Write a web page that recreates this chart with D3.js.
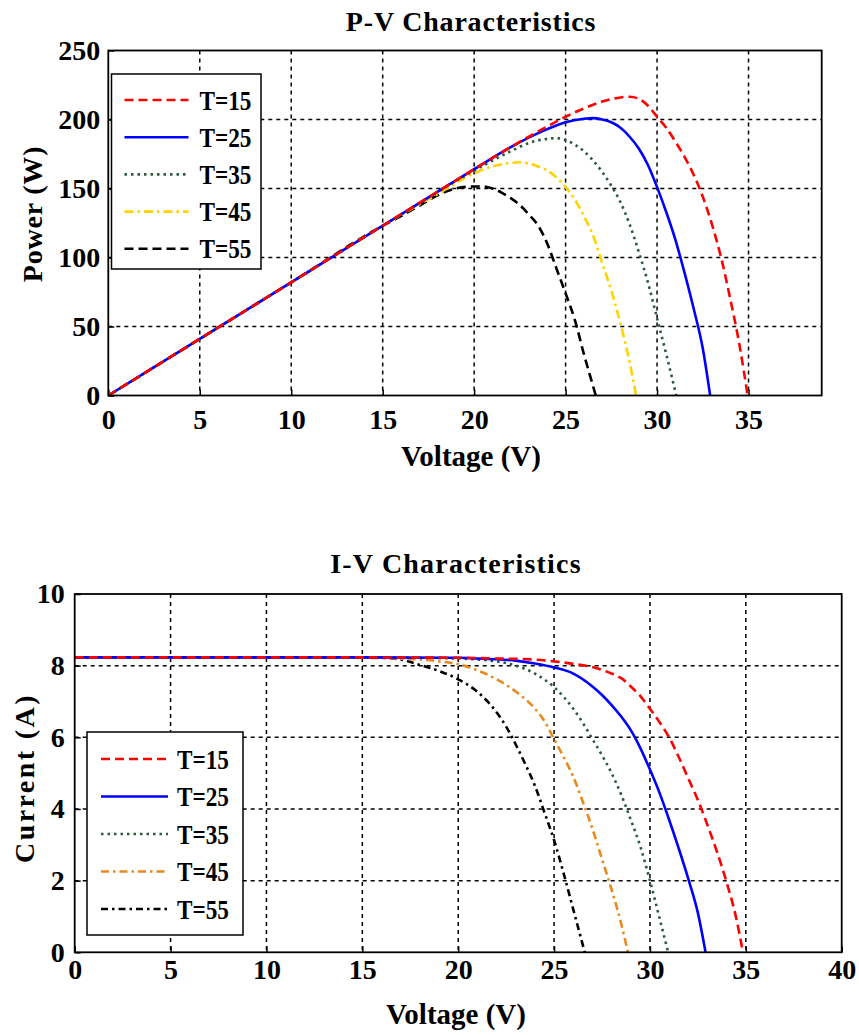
<!DOCTYPE html>
<html>
<head>
<meta charset="utf-8">
<script src="https://cdn.jsdelivr.net/npm/d3@7"></script>
<style>
  body { margin: 0; background: #fff; }
  text { font-family: "Liberation Serif", "Times New Roman", serif; font-weight: bold; fill: #000; }
</style>
</head>
<body>
<div id="chart"></div>
<script>
// ---- data ----
const seriesNames = ['T=15', 'T=25', 'T=35', 'T=45', 'T=55'];

// P-V curves (voltage in V, power in W)
const pvV15 = [0, 5, 10, 15, 20, 22, 24, 25, 26, 27, 28, 28.5, 29, 29.5, 30, 30.5, 31, 31.5, 32, 32.5, 33, 33.5, 34, 34.5, 34.95];
const pvP15 = [0, 41, 82, 123, 164, 180, 195, 202, 208, 213, 216, 216.5, 215, 210, 202, 194, 184, 173, 160, 144, 124, 100, 70, 37, 0];
const pvV25 = [0, 5, 10, 15, 20, 22, 24, 25, 26, 26.5, 27, 27.5, 28, 28.5, 29, 29.5, 30, 30.5, 31, 31.5, 32, 32.5, 32.9];
const pvP25 = [0, 41, 82, 123, 164, 180, 193, 198, 200.5, 201, 200, 198, 194, 187.5, 179, 167, 151, 133, 113, 89, 63, 34, 0];
const pvV35 = [0, 5, 10, 15, 20, 22, 23, 24, 24.5, 25, 26, 27, 27.5, 28, 28.5, 29, 29.5, 30, 30.5, 31.05];
const pvP35 = [0, 41, 82, 123, 163, 177, 183, 186, 186.5, 185, 177, 162, 152, 140, 124, 104, 82, 56, 30, 0];
const pvV45 = [0, 5, 10, 15, 18, 20, 21, 22, 22.5, 23, 23.5, 24, 24.5, 25, 25.5, 26, 26.5, 27, 27.5, 28, 28.5, 28.85];
const pvP45 = [0, 41, 82, 123, 146, 161, 166, 168.5, 169, 168, 166, 163, 158, 151, 142, 130, 116, 96, 76, 52, 24, 0];
const pvV55 = [0, 5, 10, 15, 16, 17, 18, 19, 20, 20.5, 21, 21.5, 22, 22.5, 23, 23.5, 24, 24.5, 25, 25.5, 26, 26.3, 26.65];
const pvP55 = [0, 41, 82, 123, 130, 137.5, 145, 150, 151.5, 151.5, 150, 147, 143, 138, 131, 123, 110, 92, 74, 55, 30, 16, 0];

// I-V curves (voltage in V, current in A)
const ivV15 = [0, 5, 10, 15, 20, 22, 24, 25, 26, 27, 28, 28.5, 29, 29.5, 30, 30.5, 31, 31.5, 32, 32.5, 33, 33.5, 34, 34.5, 34.85];
const ivI15 = [8.23, 8.23, 8.23, 8.23, 8.22, 8.2, 8.17, 8.12, 8.05, 7.96, 7.78, 7.65, 7.42, 7.15, 6.8, 6.42, 6.0, 5.45, 4.85, 4.25, 3.55, 2.8, 1.95, 0.95, 0];
const ivV25 = [0, 5, 10, 15, 20, 21, 22, 23, 24, 25, 26, 27, 27.5, 28, 28.5, 29, 29.5, 30, 30.5, 31, 31.5, 32, 32.5, 32.9];
const ivI25 = [8.23, 8.23, 8.23, 8.23, 8.22, 8.2, 8.18, 8.14, 8.06, 7.95, 7.78, 7.42, 7.18, 6.9, 6.58, 6.2, 5.7, 5.1, 4.45, 3.7, 2.9, 2.05, 1.1, 0];
const ivV35 = [0, 5, 10, 15, 20, 21, 22, 23, 24, 25, 25.5, 26, 26.5, 27, 27.5, 28, 28.5, 29, 29.5, 30, 30.5, 30.95];
const ivI35 = [8.23, 8.23, 8.23, 8.23, 8.2, 8.17, 8.12, 8.0, 7.78, 7.4, 7.13, 6.8, 6.4, 5.95, 5.5, 5.0, 4.4, 3.7, 2.95, 2.0, 0.95, 0];
const ivV45 = [0, 5, 10, 15, 18, 19, 20, 21, 22, 23, 24, 24.5, 25, 25.5, 26, 26.5, 27, 27.5, 28, 28.5, 28.85];
const ivI45 = [8.23, 8.23, 8.23, 8.22, 8.17, 8.12, 8.04, 7.87, 7.62, 7.28, 6.8, 6.45, 5.95, 5.45, 4.9, 4.2, 3.45, 2.6, 1.75, 0.8, 0];
const ivV55 = [0, 5, 10, 15, 16, 17, 18, 19, 20, 21, 22, 22.5, 23, 23.5, 24, 24.5, 25, 25.5, 26, 26.3, 26.6];
const ivI55 = [8.23, 8.23, 8.23, 8.23, 8.22, 8.17, 8.02, 7.85, 7.62, 7.27, 6.7, 6.3, 5.8, 5.25, 4.65, 3.9, 3.13, 2.2, 1.2, 0.6, 0];

// axis ticks
const pvXTicks = [0, 5, 10, 15, 20, 25, 30, 35];
const pvYTicks = [0, 50, 100, 150, 200, 250];
const ivXTicks = [0, 5, 10, 15, 20, 25, 30, 35, 40];
const ivYTicks = [0, 2, 4, 6, 8, 10];

// ---- styles ----
const pvStyles = [
    { color: '#ff0000', dash: '9,5' },
    { color: '#0000ff', dash: null },
    { color: '#2b5a3c', dash: '2.5,4' },
    { color: '#ffd200', dash: '9,4,2.5,4' },
    { color: '#000000', dash: '9,5' }
];
const ivStyles = [
    { color: '#ff0000', dash: '9,5' },
    { color: '#0000ff', dash: null },
    { color: '#2b5a3c', dash: '2.5,4' },
    { color: '#e8891e', dash: '8,4,2.5,4' },
    { color: '#000000', dash: '7,4,2.5,4' }
];

const zip = (xs, ys) => xs.map((v, i) => [v, ys[i]]);

const svg = d3.select('#chart').append('svg')
    .attr('width', 859)
    .attr('height', 1035);

svg.append('rect').attr('width', 859).attr('height', 1035).attr('fill', '#fff');

function drawPanel(p) {
    const x = d3.scaleLinear().domain(p.xDomain).range([p.left, p.right]);
    const y = d3.scaleLinear().domain(p.yDomain).range([p.bottom, p.top]);
    const g = svg.append('g');

    // dashed grid
    const xInner = p.xTicks.filter(t => t > p.xDomain[0] && t < p.xDomain[1]);
    const yInner = p.yTicks.filter(t => t > p.yDomain[0] && t < p.yDomain[1]);
    g.selectAll('.vgrid').data(xInner).enter().append('line')
        .attr('x1', d => x(d)).attr('x2', d => x(d))
        .attr('y1', p.top).attr('y2', p.bottom)
        .attr('stroke', '#000').attr('stroke-width', 1.5).attr('stroke-dasharray', '4,4');
    g.selectAll('.hgrid').data(yInner).enter().append('line')
        .attr('x1', p.left).attr('x2', p.right)
        .attr('y1', d => y(d)).attr('y2', d => y(d))
        .attr('stroke', '#000').attr('stroke-width', 1.5).attr('stroke-dasharray', '4,4');

    // axes (inward ticks like matlab)
    const xAxis = g.append('g')
        .attr('transform', `translate(0,${p.bottom})`)
        .call(d3.axisBottom(x).tickValues(p.xTicks).tickSize(-6).tickPadding(p.xPad).tickFormat(d3.format('d')));
    const yAxis = g.append('g')
        .attr('transform', `translate(${p.left},0)`)
        .call(d3.axisLeft(y).tickValues(p.yTicks).tickSize(-6).tickPadding(p.yPad).tickFormat(d3.format('d')));
    [xAxis, yAxis].forEach(a => {
        a.attr('font-family', null).attr('font-size', null);
        a.select('.domain').remove();
        a.selectAll('line').attr('stroke', '#000').attr('stroke-width', 1.5);
        a.selectAll('text').style('font-size', p.tickFont + 'px');
    });
    xAxis.selectAll('text').attr('dy', '0.71em');

    // curves, drawn last series first so T=15 ends up on top
    const line = d3.line().x(d => x(d[0])).y(d => y(d[1])).curve(d3.curveMonotoneX);
    for (let i = p.series.length - 1; i >= 0; i--) {
        g.append('path')
            .datum(p.series[i])
            .attr('d', line)
            .attr('fill', 'none')
            .attr('stroke', p.styles[i].color)
            .attr('stroke-width', 2.6)
            .attr('stroke-dasharray', p.styles[i].dash);
    }

    // plot box
    g.append('rect')
        .attr('x', p.left).attr('y', p.top)
        .attr('width', p.right - p.left).attr('height', p.bottom - p.top)
        .attr('fill', 'none').attr('stroke', '#000').attr('stroke-width', 1.8);

    // title and axis labels
    g.append('text')
        .attr('x', p.titleX).attr('y', p.titleY)
        .attr('text-anchor', 'middle')
        .style('font-size', '28px').style('letter-spacing', p.titleSpacing + 'px')
        .text(p.title);
    g.append('text')
        .attr('x', p.xLabelX).attr('y', p.xLabelY)
        .attr('text-anchor', 'middle')
        .style('font-size', '29px')
        .text('Voltage (V)');
    g.append('text')
        .attr('transform', `translate(${p.yLabelX},${p.yLabelY}) rotate(-90)`)
        .attr('text-anchor', 'middle')
        .style('font-size', '28px').style('letter-spacing', p.yLabelSpacing + 'px')
        .text(p.yLabel);

    // legend
    const L = p.legend;
    g.append('rect')
        .attr('x', L.x).attr('y', L.y).attr('width', L.w).attr('height', L.h)
        .attr('fill', '#fff').attr('stroke', '#000').attr('stroke-width', 1.5);
    seriesNames.forEach((name, i) => {
        const ly = L.firstRow + i * L.step;
        g.append('line')
            .attr('x1', L.x + L.lineFrom).attr('x2', L.x + L.lineTo)
            .attr('y1', ly).attr('y2', ly)
            .attr('stroke', p.styles[i].color)
            .attr('stroke-width', 2.6)
            .attr('stroke-dasharray', p.styles[i].dash);
        g.append('text')
            .attr('x', L.x + L.textAt).attr('y', ly + 9.5)
            .attr('textLength', 52).attr('lengthAdjust', 'spacingAndGlyphs')
            .style('font-size', '27px')
            .text(name);
    });
}

drawPanel({
    left: 108.3, right: 821.7, top: 50.5, bottom: 395.5,
    xDomain: [0, 39], yDomain: [0, 250],
    xTicks: pvXTicks, yTicks: pvYTicks, tickFont: 28, xPad: 14, yPad: 8,
    title: 'P-V Characteristics', titleX: 471, titleY: 31, titleSpacing: 0.8,
    xLabelX: 471, xLabelY: 466,
    yLabel: 'Power (W)', yLabelX: 42, yLabelY: 214, yLabelSpacing: 0.8,
    styles: pvStyles,
    series: [zip(pvV15, pvP15), zip(pvV25, pvP25), zip(pvV35, pvP35), zip(pvV45, pvP45), zip(pvV55, pvP55)],
    legend: { x: 111.5, y: 74, w: 149.5, h: 195, firstRow: 100, step: 37.2, lineFrom: 13, lineTo: 77, textAt: 88 }
});

drawPanel({
    left: 74.7, right: 841.7, top: 594, bottom: 952.3,
    xDomain: [0, 40], yDomain: [0, 10],
    xTicks: ivXTicks, yTicks: ivYTicks, tickFont: 28, xPad: 7, yPad: 10,
    title: 'I-V Characteristics', titleX: 456, titleY: 573, titleSpacing: 1.2,
    xLabelX: 456, xLabelY: 1024,
    yLabel: 'Current (A)', yLabelX: 34, yLabelY: 778, yLabelSpacing: 2.4,
    styles: ivStyles,
    series: [zip(ivV15, ivI15), zip(ivV25, ivI25), zip(ivV35, ivI35), zip(ivV45, ivI45), zip(ivV55, ivI55)],
    legend: { x: 87, y: 732, w: 156, h: 203, firstRow: 759, step: 37.5, lineFrom: 14, lineTo: 81, textAt: 90 }
});
</script>
</body>
</html>
